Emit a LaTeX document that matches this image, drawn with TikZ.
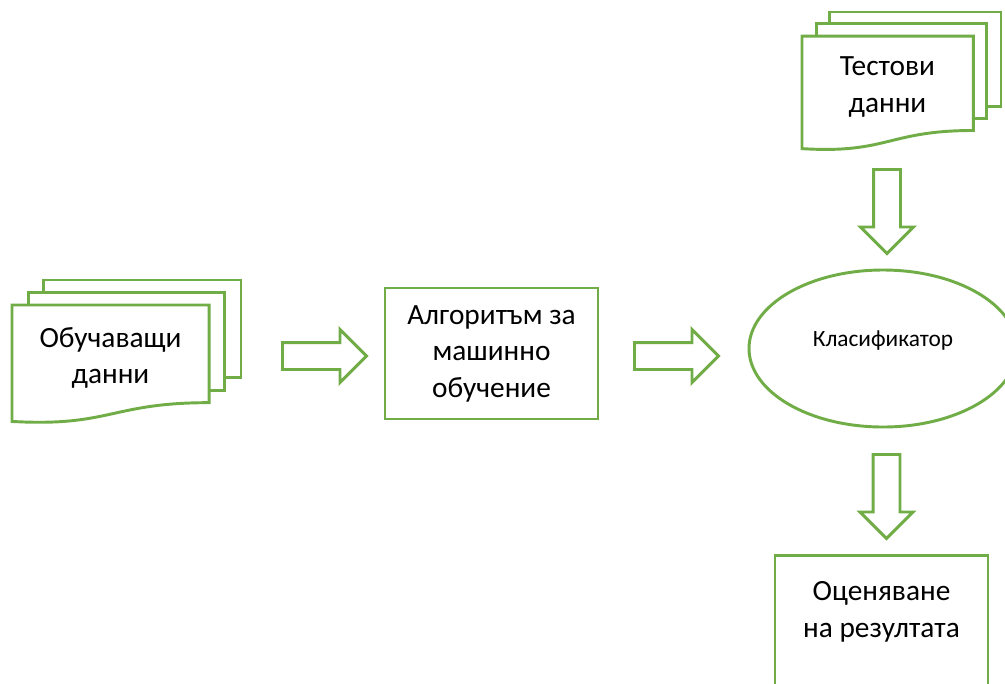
\documentclass[tikz,border=0pt]{standalone}
\usepackage{fontspec}
\setmainfont{Carlito}
\usetikzlibrary{shapes.geometric,shapes.arrows}

\definecolor{flowgreen}{HTML}{70AD47}

\begin{document}
\begin{tikzpicture}[x=0.75pt,y=-0.75pt]

\tikzset{outline/.style = {draw=flowgreen, line width=2.2pt, fill=white}}
\tikzset{bigtext/.style = {align=center, font=\fontsize{22}{27.4}\selectfont}}
\tikzset{procbox/.style = {outline, bigtext, minimum width=159.75pt}}
\tikzset{blockarrow/.style = {outline, single arrow, anchor=tail, inner xsep=0pt, inner ysep=9pt,
  minimum height=63pt, single arrow head extend=9.75pt, single arrow tip angle=90}}
\tikzset{docstack/.pic = {
  \draw[outline] (0.1376,0) rectangle (1,0.6663);
  \draw[outline] (0.0709,0.0840) rectangle (0.9259,0.7524);
  \draw[outline] (0,0.1701) -- (0.8609,0.1701) -- (0.8609,0.8344)
    .. controls (0.4305,0.8344) and (0.4305,1) .. (0,0.9621) -- cycle;
}}

% frame
\useasboundingbox (0,0) rectangle (1005,683);
\clip (0,0) rectangle (1005,683);

% document stacks
\pic[shift={(12,280)}, xscale=229, yscale=147] {docstack};
\pic[shift={(802,12)}, xscale=199, yscale=142] {docstack};

% nodes
\node[bigtext] (train) at (110.5,358) {Обучаващи\\данни};
\node[bigtext] (test) at (887.5,87) {Тестови\\данни};
\node[procbox, minimum height=98.25pt] (algo) at (491.5,353.5) {Алгоритъм за\\машинно\\обучение};
\node[outline, ellipse, inner sep=0pt, minimum width=201pt, minimum height=117.75pt,
  font=\fontsize{17.5}{21}\selectfont, text depth=15.5pt] (clf) at (883,348.5) {Класификатор};
\node[procbox, minimum height=112.5pt, anchor=north] (result) at (881.5,554) {};
\node[bigtext] (eval) at (881.5,612) {Оценяване\\на резултата};

% block arrows
\node[blockarrow] (trainalgo) at (281,356) {};
\node[blockarrow] (algoclf) at (633,356) {};
\node[blockarrow, rotate=-90] (testclf) at (887,168) {};
\node[blockarrow, rotate=-90] (clfresult) at (886.5,453) {};

\end{tikzpicture}
\end{document}
